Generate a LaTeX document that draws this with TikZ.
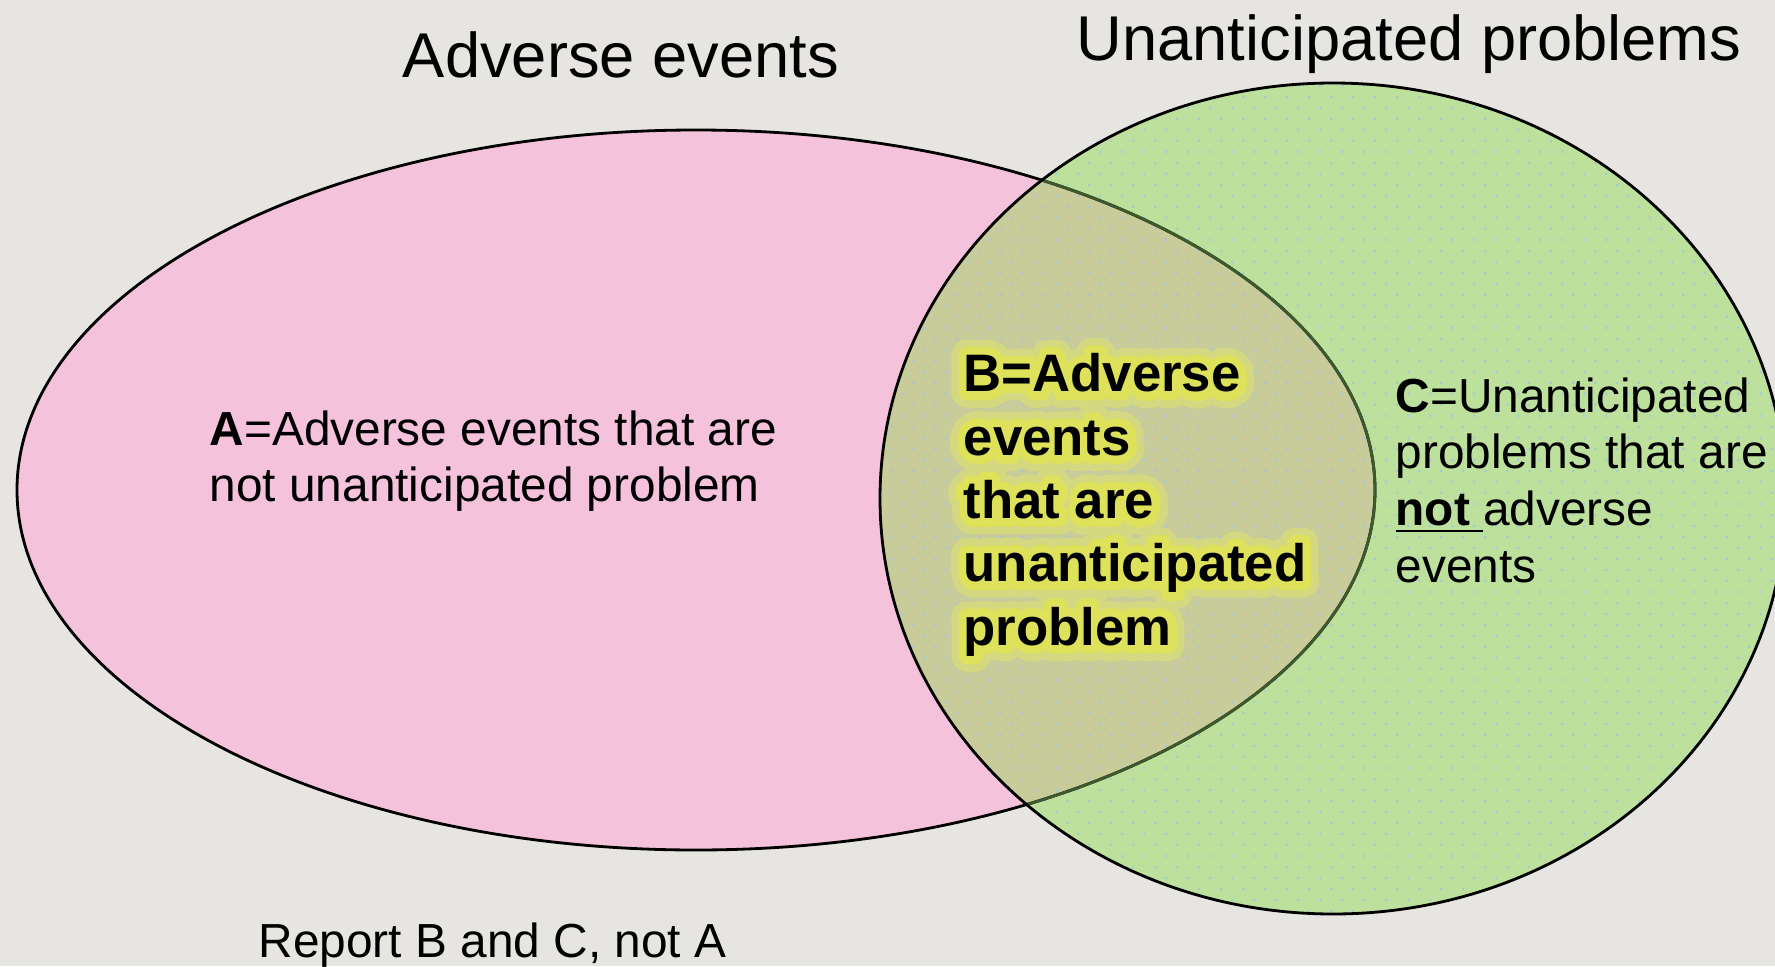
\documentclass[tikz,border=0pt]{standalone}
\usepackage{fontspec}
\setmainfont{Liberation Sans}
\newfontfamily\glowinner[FakeBold=32]{Liberation Sans Bold}
\newfontfamily\glowouter[FakeBold=60]{Liberation Sans Bold}
\usetikzlibrary{patterns.meta}
\definecolor{slidebg}{HTML}{E6E5E1}
\definecolor{aepink}{HTML}{F4C2DA}
\definecolor{upgreen}{HTML}{BDE09D}
\definecolor{bothfill}{HTML}{C8CB9A}
\definecolor{dotblue}{HTML}{9CC6EC}
\definecolor{innerline}{HTML}{3E5A2C}
\definecolor{glowyellow}{HTML}{DDE25A}
\definecolor{glowsoft}{HTML}{D4D880}
\newcommand{\btext}{B=Adverse\\events\\that are\\unanticipated\\problem}
\tikzset{
  title/.style={font=\fontsize{18}{21.6}\selectfont,inner sep=0pt},
  region/.style={font=\fontsize{13.6}{16}\selectfont,align=left,inner sep=0pt,anchor=base west},
  glowtext/.style={font=\fontsize{15}{18}\selectfont\bfseries,align=left,inner sep=0pt,anchor=base west},
  aeshape/.style={x radius=6.79,y radius=3.60},
  upshape/.style={x radius=4.53,y radius=4.155}
}

\begin{document}
\begin{tikzpicture}[x=1cm,y=1cm]
\useasboundingbox (0,0) rectangle (17.75,9.66);
\fill[slidebg] (0,0) rectangle (17.75,9.66);
% the two sets
\coordinate (ae) at (6.96,4.76);
\coordinate (up) at (13.33,4.675);
\fill[aepink] (ae) ellipse [aeshape];
\fill[upgreen] (up) ellipse [upshape];
% overlap
\begin{scope}
  \clip (ae) ellipse [aeshape];
  \fill[bothfill] (up) ellipse [upshape];
\end{scope}
\fill[pattern={Dots[distance=0.1556cm,radius=0.013cm,angle=45]},pattern color=dotblue]
  (up) ellipse [upshape];
% outlines
\draw[thick] (ae) ellipse [aeshape];
\begin{scope}
  \clip (up) ellipse [upshape];
  \draw[thick,innerline] (ae) ellipse [aeshape];
\end{scope}
\draw[thick] (up) ellipse [upshape];
% titles
\node[title,anchor=base] (aetitle) at (6.21,8.89) {Adverse events};
\node[title,anchor=base] (uptitle) at (14.09,9.05) {Unanticipated problems};
% region texts (base = last line)
\node[region,font=\fontsize{13.6}{15.8}\selectfont] (atext) at (2.09,4.65)
  {\textbf{A}=Adverse events that are\\not unanticipated problem};
\begin{scope}[line join=round]
  \node[glowtext,font=\fontsize{15}{18}\selectfont\glowouter,text=glowsoft] (bsoft) at (9.63,3.21) {\btext};
  \node[glowtext,font=\fontsize{15}{18}\selectfont\glowinner,text=glowyellow] (bglow) at (9.63,3.21) {\btext};
\end{scope}
\node[glowtext] (btext) at (9.63,3.21) {\btext};
\node[region,font=\fontsize{13.6}{16.1}\selectfont] (ctext) at (13.95,3.84)
  {\textbf{C}=Unanticipated\\problems that are\\\underline{\textbf{not }}adverse\\events};
\node[region] (report) at (2.58,0.09) {Report B and C, not A};
\end{tikzpicture}
\end{document}
